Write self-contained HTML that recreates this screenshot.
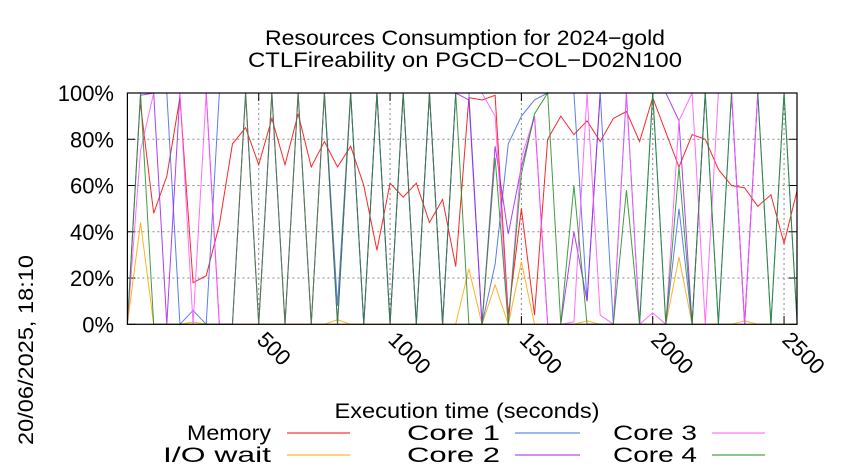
<!DOCTYPE html>
<html><head><meta charset="utf-8"><style>
body{margin:0;background:#fff;}
svg{display:block;font-family:"Liberation Sans",sans-serif;}
</style></head><body>
<svg id="chart" width="850" height="475" viewBox="0 0 850 475">
<text x="465" y="45" font-size="21" text-anchor="middle" textLength="400" lengthAdjust="spacingAndGlyphs">Resources Consumption for 2024−gold</text>
<text x="465" y="67" font-size="21" text-anchor="middle" textLength="434" lengthAdjust="spacingAndGlyphs">CTLFireability on PGCD−COL−D02N100</text>
<g id="grid"></g>
<g id="axes"></g>
<g id="series"></g>
<rect x="127.4" y="93" width="669.6" height="231.3" fill="none" stroke="#000" stroke-width="1.2"/>
<text x="467" y="418" font-size="21" text-anchor="middle" textLength="265" lengthAdjust="spacingAndGlyphs">Execution time (seconds)</text>
<text transform="translate(33,350) rotate(-90)" font-size="21" text-anchor="middle" textLength="190" lengthAdjust="spacingAndGlyphs">20/06/2025, 18:10</text>
<g id="legend"></g>
</svg>
<script>
const times = [0,50,100,150,200,250,300,350,400,450,500,550,600,650,700,750,800,850,900,950,1000,1050,1100,1150,1200,1250,1300,1350,1400,1450,1500,1550,1600,1650,1700,1750,1800,1850,1900,1950,2000,2050,2100,2150,2200,2250,2300,2350,2400,2450,2500,2550];
const memory = [null,95,48,64,98,18,21,43,78,85,69,89,69,91,68,79,68,77,60,32,61,55,61,44,54,25,98,97,99,4,50,4,80,90,82,88,79,89,92,79,98,83,68,82,80,67,60,59,51,56,35,58];
const ioWait = [0,44,0,0,0,1,0,0,0,0,0,0,0,0,0,0,2,0,0,0,0,0,0,0,0,0,24,0,17,0,27,0,0,0,0,1.5,0,0,0,0,0,0,29,0,0,0,0,1.5,0,0,0,0];
const core1 = [100,100,100,100,0,6,0,100,100,100,100,100,100,100,100,100,8,100,0,100,0,100,0,100,0,100,100,0,26,78,90,97,100,100,100,10,100,0,100,0,100,0,50,0,100,0,100,0,100,0,100,0];
const core2 = [0,99,100,0,100,100,100,0,0,100,0,100,0,100,0,100,0,100,0,100,0,100,0,100,0,100,97,0,77,39,68,90,0,0,40,10,100,100,100,100,100,100,88,0,100,100,100,0,100,100,100,100];
const core3 = [0,75,100,100,100,0,100,0,0,100,0,100,0,100,0,100,100,100,100,100,100,100,100,100,100,100,100,100,90,0,72,90,0,0,1,100,4,0,100,0,5,0,88,100,0,100,100,0,100,100,100,100];
const core4 = [0,100,0,0,0,0,0,0,0,100,0,100,0,100,0,100,0,100,0,100,0,100,0,100,0,100,0,0,72,0,65,91,100,0,60,0,0,0,58,0,100,0,68,0,100,0,100,100,100,0,100,0];
const xTicks = [500,1000,1500,2000,2500];
const yTicks = [0,20,40,60,80,100];

const NS = "http://www.w3.org/2000/svg";
const X0 = 127.4, XS = 131.33/500, Y0 = 324.3, YS = 2.313;
function xScale(t){ return X0 + t*XS; }
function yScale(v){ return Y0 - v*YS; }
function mk(tag, attrs, parent){ const e=document.createElementNS(NS,tag); for(const k in attrs) e.setAttribute(k,attrs[k]); parent.appendChild(e); return e; }

const grid=document.getElementById('grid'), axes=document.getElementById('axes');
yTicks.forEach(v=>{
  const y=yScale(v);
  if(v>0&&v<100){
    const l=mk('line',{x1:X0,x2:797,y1:y,y2:y,stroke:'#888','stroke-dasharray':'2,3','stroke-width':1},grid);
    
    
  }
  const t1=mk('line',{x1:X0,x2:X0+8,y1:y,y2:y,stroke:'#000'},axes);
  
  
  const t2=mk('line',{x1:789,x2:797,y1:y,y2:y,stroke:'#000'},axes);
  
  
  const tx=mk('text',{x:114,y:y+8,'font-size':22,'text-anchor':'end'},axes);
  tx.textContent=v+'%';
  
  
});
xTicks.forEach(t=>{
  const x=xScale(t);
  const l=mk('line',{x1:x,x2:x,y1:93,y2:324,stroke:'#888','stroke-dasharray':'2,3','stroke-width':1},grid);
  
  
  const tk=mk('line',{x1:x,x2:x,y1:316,y2:324.3,stroke:'#000'},axes);
  
  
  const tk2=mk('line',{x1:x,x2:x,y1:93,y2:101,stroke:'#000'},axes);
  
  
  const tx=mk('text',{transform:`translate(${x-3},${341}) rotate(45)`,'font-size':22},axes);
  tx.textContent=t;
  
  
});

const series=[
  {name:'memory',label:'Memory',data:memory,color:'#ff0000'},
  {name:'io-wait',label:'I/O wait',data:ioWait,color:'#ffa500'},
  {name:'core-1',label:'Core 1',data:core1,color:'#4169e1'},
  {name:'core-2',label:'Core 2',data:core2,color:'#a020f0'},
  {name:'core-3',label:'Core 3',data:core3,color:'#ff55ff'},
  {name:'core-4',label:'Core 4',data:core4,color:'#228b22'}
];
const sg=document.getElementById('series');
series.forEach(s=>{
  let d='', pen=false;
  s.data.forEach((v,i)=>{
    if(v===null){pen=false;return;}
    d+=(pen?'L':'M')+xScale(times[i]).toFixed(2)+','+yScale(v).toFixed(2);
    pen=true;
  });
  const p=mk('path',{d:d,fill:'none',stroke:s.color,'stroke-width':1,'stroke-opacity':0.85},sg);
  
  
});

const lg=document.getElementById('legend');
const pos=[[271,287,350,433,84],[271,287,350,455,108],[500,515,580,433,93],[500,515,580,455,93],[697,712,765,433,84],[697,712,765,455,84]];
series.forEach((s,i)=>{
  const [tx,l1,l2,y,w]=pos[i];
  const t=mk('text',{x:tx,y:y+7,'font-size':21,'text-anchor':'end',textLength:w,lengthAdjust:'spacingAndGlyphs'},lg);
  t.textContent=s.label;
  
  
  const l=mk('line',{x1:l1,x2:l2,y1:y,y2:y,stroke:s.color,'stroke-width':1},lg);
  
  
});
</script>
</body></html>
